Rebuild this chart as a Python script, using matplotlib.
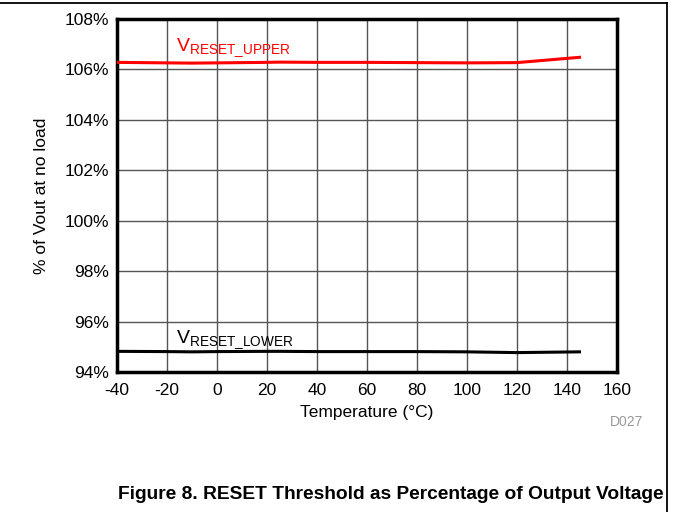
import matplotlib
matplotlib.use('Agg')
import matplotlib.pyplot as plt
from matplotlib.lines import Line2D

plt.rcParams['font.family'] = ['Liberation Sans', 'DejaVu Sans']

# data
temps = [-40, -20, -10, 0, 20, 25, 40, 60, 80, 100, 120, 145]
upper = [106.28, 106.26, 106.25, 106.26, 106.28, 106.29, 106.28, 106.28, 106.27, 106.26, 106.27, 106.48]
lower = [94.82, 94.81, 94.80, 94.81, 94.82, 94.82, 94.81, 94.81, 94.81, 94.80, 94.77, 94.80]
xticks = [-40, -20, 0, 20, 40, 60, 80, 100, 120, 140, 160]
yticks = [94, 96, 98, 100, 102, 104, 106, 108]

fig = plt.figure(figsize=(6.74, 5.12), dpi=100)
ax = fig.add_axes([0.1736, 0.2734, 0.7418, 0.6895])

ax.plot(temps, upper, color='#ff0000', lw=2.2, zorder=3)
ax.plot(temps, lower, color='black', lw=2.2, zorder=3)

ax.set_xlim(-40, 160)
ax.set_ylim(94, 108)
ax.set_xticks(xticks)
ax.set_xticklabels([str(t) for t in xticks])
ax.set_yticks(yticks)
ax.set_yticklabels(['%d%%' % v for v in yticks])
ax.tick_params(length=0, labelsize=12.5, pad=8)
ax.tick_params(axis='y', pad=6)
ax.grid(True, color='#555555', lw=1)
for s in ax.spines.values():
    s.set_linewidth(2.5)

ax.set_xlabel('Temperature (°C)', fontsize=12.5, labelpad=5)
ax.set_ylabel('% of Vout at no load', fontsize=12.5, labelpad=11)

ax.text(-16.5, 106.75, r'V$_{\mathregular{RESET\_UPPER}}$', color='#ff0000', fontsize=14)
ax.text(-16.5, 95.15, r'V$_{\mathregular{RESET\_LOWER}}$', color='black', fontsize=14)

fig.text(0.9303, 0.168, 'D027', color='#999999', fontsize=10, ha='center')
fig.text(0.175, 0.025, 'Figure 8. RESET Threshold as Percentage of Output Voltage',
         fontsize=13.8, fontweight='bold', ha='left')

# page frame lines
fig.add_artist(Line2D([0, 0.9896], [0.994, 0.994], color='black', lw=1.3, transform=fig.transFigure))
fig.add_artist(Line2D([0.9896, 0.9896], [0, 0.994], color='black', lw=1.3, transform=fig.transFigure))

fig.savefig('out.png', dpi=100)
